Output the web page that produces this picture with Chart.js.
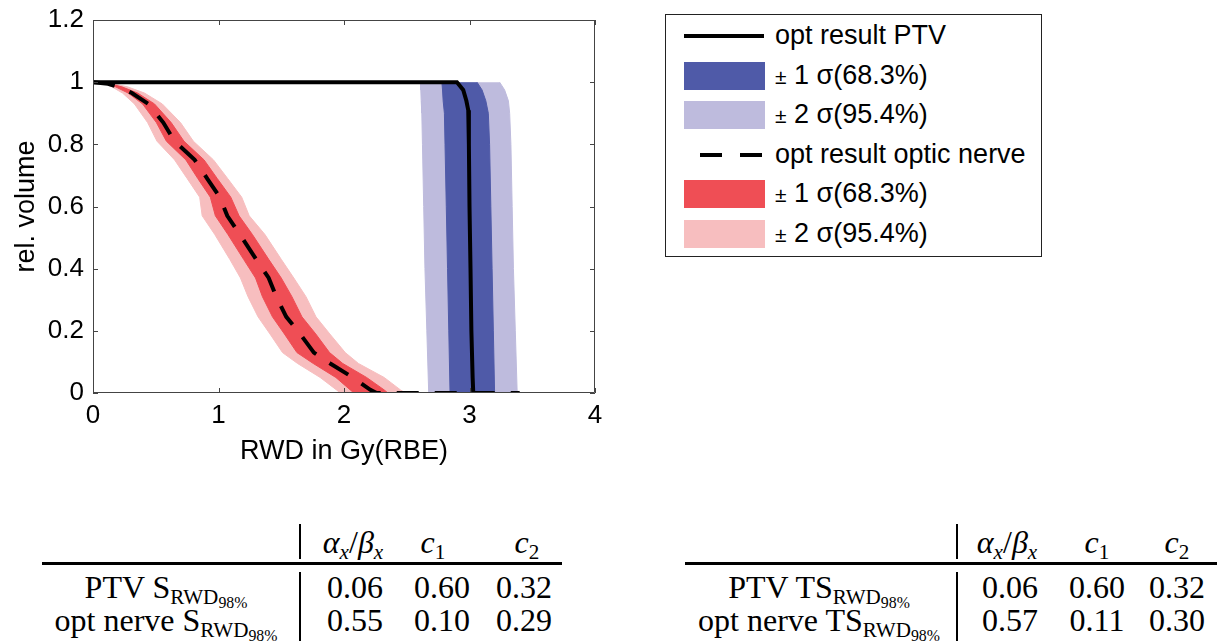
<!DOCTYPE html>
<html>
<head>
<meta charset="utf-8">
<script src="https://cdn.jsdelivr.net/npm/chart.js@4.4.1/dist/chart.umd.min.js"></script>
<style>
  body { margin: 0; width: 1217px; height: 641px; background: #fff; position: relative; overflow: hidden; font-family: "Liberation Sans", Arial, sans-serif; }
  #plot { position: absolute; left: 0; top: 0; }
  #legend { position: absolute; left: 665px; top: 14px; width: 377px; height: 243px; border: 1px solid #222; box-sizing: border-box; }
  .item { position: absolute; left: 18px; height: 28px; width: 340px; }
  .swatch { position: absolute; left: 0; top: 0; width: 81px; height: 28px; }
  .solid { position: absolute; left: 0; top: 12px; width: 80px; height: 4px; background: #000; }
  .dash { position: absolute; top: 12px; width: 22px; height: 4px; background: #000; }
  .lbl { position: absolute; left: 91px; top: -3px; font-size: 27px; line-height: 32px; white-space: nowrap; color: #000; }
  .pm { font-size: 21px; }
  .tab { position: absolute; font-family: "Liberation Serif", "Times New Roman", serif; font-size: 32px; line-height: 31px; color: #000; }
  .c { width: 300px; text-align: center; white-space: nowrap; }
  .vbar { position: absolute; width: 2px; background: #000; }
  .rule { position: absolute; height: 3px; background: #000; }
  .sb { font-size: 66%; vertical-align: -0.28em; }
  .ssb { font-size: 75%; vertical-align: -0.25em; }
  i { font-style: italic; }
</style>
</head>
<body>
<canvas id="plot" width="620" height="470"></canvas>
<div id="legend"></div>

<!-- left table -->
<div class="vbar" style="left:299px;top:524px;height:35px"></div>
<div class="tab c" style="left:203px;top:527px"><i>α<span class="sb">x</span></i>/<i>β<span class="sb">x</span></i></div>
<div class="tab c" style="left:283px;top:527px"><i>c</i><span class="sb">1</span></div>
<div class="tab c" style="left:377px;top:527px"><i>c</i><span class="sb">2</span></div>
<div class="rule" style="left:42px;top:562px;width:520px"></div>
<div class="vbar" style="left:299px;top:572px;height:69px"></div>
<div class="tab c" style="left:16px;top:572px">PTV S<span class="sb">RWD<span class="ssb">98%</span></span></div>
<div class="tab c" style="left:16px;top:605px">opt nerve S<span class="sb">RWD<span class="ssb">98%</span></span></div>
<div id="t1"></div>

<!-- right table -->
<div class="vbar" style="left:956px;top:524px;height:35px"></div>
<div class="tab c" style="left:857px;top:527px"><i>α<span class="sb">x</span></i>/<i>β<span class="sb">x</span></i></div>
<div class="tab c" style="left:947px;top:527px"><i>c</i><span class="sb">1</span></div>
<div class="tab c" style="left:1027px;top:527px"><i>c</i><span class="sb">2</span></div>
<div class="rule" style="left:685px;top:562px;width:532px"></div>
<div class="vbar" style="left:956px;top:572px;height:69px"></div>
<div class="tab c" style="left:669px;top:572px">PTV TS<span class="sb">RWD<span class="ssb">98%</span></span></div>
<div class="tab c" style="left:669px;top:605px">opt nerve TS<span class="sb">RWD<span class="ssb">98%</span></span></div>
<div id="t2"></div>

<script>
// axis ticks
const doseTicks = [0, 1, 2, 3, 4];
const volTicks = [0, 0.2, 0.4, 0.6, 0.8, 1, 1.2];

// PTV: optimised DVH (dose in Gy(RBE) at each relative volume)
const ptvVol  = [1, 1, 0.975, 0.94, 0.91, 0.8, 0.6, 0.4, 0.2, 0.05, 0];
const ptvDose = [0, 2.90, 2.95, 2.975, 2.99, 2.995, 3.0, 3.008, 3.015, 3.025, 3.03];

// PTV uncertainty bands
const ptvBandVol = [1, 0.975, 0.94, 0.9, 0.8, 0.6, 0.4, 0.2, 0];
const ptv1Lo = [2.78, 2.785, 2.79, 2.80, 2.805, 2.815, 2.825, 2.835, 2.845];
const ptv1Hi = [3.06, 3.10, 3.13, 3.15, 3.16, 3.17, 3.18, 3.19, 3.20];
const ptv2Lo = [2.61, 2.612, 2.615, 2.62, 2.625, 2.635, 2.645, 2.66, 2.675];
const ptv2Hi = [3.24, 3.28, 3.31, 3.32, 3.33, 3.34, 3.35, 3.365, 3.38];

// optic nerve: optimised DVH and its bands
const nerveVol  = [1, 0.995, 0.985, 0.965, 0.93, 0.87, 0.81, 0.75, 0.69, 0.63, 0.57, 0.51, 0.43, 0.37, 0.31, 0.245, 0.19, 0.13, 0.095, 0.05, 0.01, 0];
const nerveDose = [0, 0.12, 0.20, 0.31, 0.44, 0.56, 0.65, 0.81, 0.91, 1.01, 1.07, 1.17, 1.30, 1.40, 1.46, 1.54, 1.65, 1.76, 1.89, 2.07, 2.21, 2.26];
const nerve1Lo  = [0, 0.114, 0.18, 0.28, 0.395, 0.505, 0.585, 0.74, 0.835, 0.935, 0.975, 1.075, 1.20, 1.295, 1.35, 1.43, 1.525, 1.625, 1.755, 1.935, 2.05, 2.08];
const nerve1Hi  = [0, 0.132, 0.23, 0.355, 0.49, 0.623, 0.725, 0.885, 0.99, 1.098, 1.164, 1.27, 1.40, 1.50, 1.585, 1.665, 1.775, 1.885, 1.99, 2.18, 2.32, 2.35];
const nerve2Lo  = [0, 0.095, 0.15, 0.235, 0.33, 0.435, 0.51, 0.65, 0.75, 0.85, 0.87, 0.97, 1.09, 1.175, 1.235, 1.315, 1.41, 1.51, 1.63, 1.81, 1.94, 1.97];
const nerve2Hi  = [0, 0.157, 0.275, 0.41, 0.552, 0.697, 0.80, 0.96, 1.073, 1.185, 1.245, 1.37, 1.50, 1.60, 1.697, 1.777, 1.887, 2.01, 2.115, 2.32, 2.45, 2.49];
const nerveTailDose = 3.4;

// tables
const table1 = [[0.06, 0.60, 0.32], [0.55, 0.10, 0.29]];
const table2 = [[0.06, 0.60, 0.32], [0.57, 0.11, 0.30]];

const legendItems = [
    { label: 'opt result PTV', kind: 'solid' },
    { label: '1 σ(68.3%)', kind: 'box', color: '#4f5aa8' },
    { label: '2 σ(95.4%)', kind: 'box', color: '#bebbdd' },
    { label: 'opt result optic nerve', kind: 'dash' },
    { label: '1 σ(68.3%)', kind: 'box', color: '#ef4e55' },
    { label: '2 σ(95.4%)', kind: 'box', color: '#f7bebf' }
];

function polygon(vol, lo, hi) {
    const left = lo.map((d, i) => ({ x: d, y: vol[i] }));
    const right = hi.map((d, i) => ({ x: d, y: vol[i] })).reverse();
    return left.concat(right);
}

function band(data, color, order) {
    return {
        data: data,
        backgroundColor: color,
        borderColor: color,
        borderWidth: 1,
        fill: 'shape',
        pointRadius: 0,
        order: order
    };
}

const nerveLine = nerveDose.map((d, i) => ({ x: d, y: nerveVol[i] }));
nerveLine.push({ x: nerveTailDose, y: 0 });

// box round the axes with inward ticks, like the original figure
const frameTicks = {
    id: 'frameTicks',
    afterDatasetsDraw(chart) {
        const { ctx, chartArea: a, scales: { x, y } } = chart;
        ctx.save();
        ctx.strokeStyle = '#444';
        ctx.lineWidth = 1;
        ctx.beginPath();
        ctx.rect(a.left + 0.5, a.top + 0.5, a.right - a.left - 1, a.bottom - a.top - 1);
        x.ticks.forEach(t => {
            const px = Math.round(x.getPixelForValue(t.value)) + 0.5;
            ctx.moveTo(px, a.bottom); ctx.lineTo(px, a.bottom - 5);
            ctx.moveTo(px, a.top); ctx.lineTo(px, a.top + 5);
        });
        y.ticks.forEach(t => {
            const py = Math.round(y.getPixelForValue(t.value)) + 0.5;
            ctx.moveTo(a.left, py); ctx.lineTo(a.left + 5, py);
            ctx.moveTo(a.right, py); ctx.lineTo(a.right - 5, py);
        });
        ctx.stroke();
        ctx.restore();
    }
};

Chart.defaults.font.family = '"Liberation Sans", Arial, sans-serif';
Chart.defaults.color = '#000';

new Chart(document.getElementById('plot').getContext('2d'), {
    type: 'line',
    data: {
        datasets: [
            {
                data: ptvDose.map((d, i) => ({ x: d, y: ptvVol[i] })),
                borderColor: '#000',
                borderWidth: 4,
                pointRadius: 0,
                fill: false,
                order: 0
            },
            {
                data: nerveLine,
                borderColor: '#000',
                borderWidth: 4,
                borderDash: [22, 16],
                pointRadius: 0,
                fill: false,
                order: 1
            },
            band(polygon(ptvBandVol, ptv1Lo, ptv1Hi), '#4f5aa8', 2),
            band(polygon(nerveVol, nerve1Lo, nerve1Hi), '#ef4e55', 2),
            band(polygon(ptvBandVol, ptv2Lo, ptv2Hi), '#bebbdd', 3),
            band(polygon(nerveVol, nerve2Lo, nerve2Hi), '#f7bebf', 3)
        ]
    },
    options: {
        responsive: false,
        animation: false,
        layout: { padding: { top: 20, right: 25, left: 0, bottom: 0 } },
        plugins: {
            legend: { display: false },
            tooltip: { enabled: false }
        },
        scales: {
            x: {
                type: 'linear',
                min: 0,
                max: 4,
                afterBuildTicks: s => { s.ticks = doseTicks.map(v => ({ value: v })); },
                afterFit: s => { s.height = 77; },
                grid: { display: false, drawTicks: false },
                border: { display: false },
                ticks: { font: { size: 26 }, padding: 7, callback: v => String(v) },
                title: { display: true, text: 'RWD in Gy(RBE)', font: { size: 27 }, padding: { top: 0, bottom: 2 } }
            },
            y: {
                type: 'linear',
                min: 0,
                max: 1.2,
                afterBuildTicks: s => { s.ticks = volTicks.map(v => ({ value: v })); },
                afterFit: s => { s.width = 93; s.paddingTop = 0; s.paddingBottom = 0; },
                grid: { display: false, drawTicks: false },
                border: { display: false },
                ticks: { font: { size: 26 }, padding: 9, callback: v => String(v) },
                title: { display: true, text: 'rel. volume', font: { size: 27 }, padding: { top: 10, bottom: 0 } }
            }
        }
    },
    plugins: [frameTicks]
});

// legend box
const legend = document.getElementById('legend');
legendItems.forEach((item, i) => {
    const row = document.createElement('div');
    row.className = 'item';
    row.style.top = (7 + i * 39.5) + 'px';
    if (item.kind === 'solid') {
        row.innerHTML = '<span class="solid"></span>';
    } else if (item.kind === 'dash') {
        row.innerHTML = '<span class="dash" style="left:16px"></span><span class="dash" style="left:56px"></span>';
    } else {
        row.innerHTML = '<span class="swatch" style="background:' + item.color + '"></span>';
    }
    const lbl = document.createElement('span');
    lbl.className = 'lbl';
    if (item.kind === 'box') {
        lbl.innerHTML = '<span class="pm">±</span> ' + item.label;
    } else {
        lbl.textContent = item.label;
    }
    row.appendChild(lbl);
    legend.appendChild(row);
});

// table values
function fillTable(el, rows, centers) {
    rows.forEach((vals, r) => {
        vals.forEach((v, c) => {
            const d = document.createElement('div');
            d.className = 'tab c';
            d.style.left = (centers[c] - 150) + 'px';
            d.style.top = (572 + r * 33) + 'px';
            d.textContent = v.toFixed(2);
            el.appendChild(d);
        });
    });
}
fillTable(document.getElementById('t1'), table1, [355, 442, 524]);
fillTable(document.getElementById('t2'), table2, [1010, 1097, 1177]);
</script>
</body>
</html>
